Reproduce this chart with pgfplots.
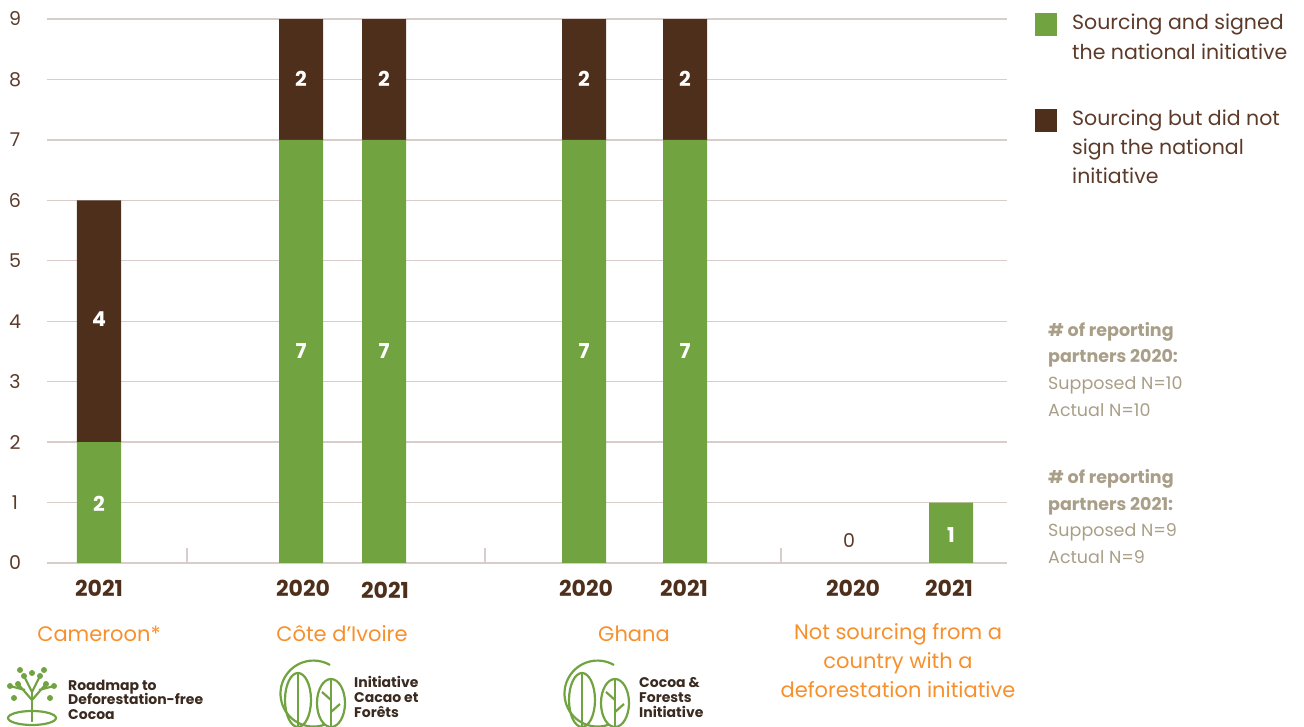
\documentclass[border=0pt]{standalone}
\usepackage{pgfplots}
\pgfplotsset{compat=1.18}
\usepackage{fontspec}
\setmainfont{Poppins}
\definecolor{cgreen}{HTML}{71A341}
\definecolor{cbrown}{HTML}{4D2F1B}
\definecolor{gridc}{HTML}{D8CDCA}
\definecolor{tickc}{HTML}{5B3A29}
\definecolor{corange}{HTML}{F7902C}
\definecolor{cnote}{HTML}{A99F88}
\definecolor{clogo}{HTML}{3A2A20}
\tikzset{barlbl/.style={text=white, font=\fontsize{20.5}{20.5}\selectfont\bfseries}}
\begin{document}
\begin{tikzpicture}[x=1pt,y=1pt]
\path[use as bounding box] (-47,-164) rectangle (1257,563);
\begin{axis}[anchor=south west, scale only axis,
  width=960pt, height=544pt, xmin=47, xmax=1007, ymin=0, ymax=9,
  ytick={0,...,9}, xtick=\empty, ymajorgrids,
  grid style={draw=gridc, line width=1.3pt},
  axis line style={draw=none}, major tick length=0pt,
  yticklabel style={anchor=center, xshift=-32pt, font=\fontsize{19}{19}\selectfont, text=tickc},
  /pgf/number format/assume math mode=true,
  ybar stacked, bar width=44pt, clip=false]
\addplot[fill=cgreen, draw=none] coordinates {(99,2) (301,7) (384,7) (584,7) (685,7) (849,0) (951,1)};
\addplot[fill=cbrown, draw=none] coordinates {(99,4) (301,2) (384,2) (584,2) (685,2) (849,0) (951,0)};
\draw[gridc, line width=1.3pt] (axis cs:187,0) -- (axis cs:187,0.25) (axis cs:485,0) -- (axis cs:485,0.25) (axis cs:781,0) -- (axis cs:781,0.25);
\node[text=tickc, font=\fontsize{19}{19}\selectfont] at (axis cs:849,0.37) {0};
\end{axis}
\begin{scope}[shift={(-47,563)}, yscale=-1]
% bar value labels
\node[barlbl] at (99,504) {2}; \node[barlbl] at (99,319) {4};
\node[barlbl] at (301,351) {7}; \node[barlbl] at (301,79) {2};
\node[barlbl] at (384,351) {7}; \node[barlbl] at (384,79) {2};
\node[barlbl] at (584,351) {7}; \node[barlbl] at (584,79) {2};
\node[barlbl] at (685,351) {7}; \node[barlbl] at (685,79) {2};
\node[barlbl] at (951,535) {1};
% year labels
\begin{scope}[every node/.style={anchor=base, text=cbrown, font=\fontsize{22}{22}\selectfont\bfseries}]
\node at (99,597) {2021};
\node at (303,597) {2020};
\node at (385,599) {2021};
\node at (586,597) {2020};
\node at (684,597) {2021};
\node at (853,597) {2020};
\node at (949,597) {2021};
\end{scope}
% country labels
\begin{scope}[every node/.style={anchor=base, text=corange, font=\fontsize{21}{21}\selectfont}]
\node at (99,642) {Cameroon*};
\node at (342,642) {Côte d’Ivoire};
\node at (634,642) {Ghana};
\node at (898,640) {Not sourcing from a};
\node at (898,669) {country with a};
\node at (898,698) {deforestation initiative};
\end{scope}
% legend
\fill[cgreen] (1035,13) rectangle (1057,36);
\fill[cbrown] (1035,109) rectangle (1057,132);
\begin{scope}[every node/.style={anchor=base west, inner xsep=0pt, text=tickc, font=\fontsize{20.5}{20.5}\selectfont}]
\node at (1072,30) {Sourcing and signed};
\node at (1072,60) {the national initiative};
\node at (1072,126) {Sourcing but did not};
\node at (1072,155) {sign the national};
\node at (1072,184) {initiative};
\end{scope}
% notes
\begin{scope}[every node/.style={anchor=base west, inner xsep=0pt, text=cnote, font=\fontsize{17.5}{17.5}\selectfont}]
\node[font=\fontsize{17.5}{17.5}\selectfont\bfseries] at (1048,337) {\# of reporting};
\node[font=\fontsize{17.5}{17.5}\selectfont\bfseries] at (1048,363) {partners 2020:};
\node at (1048,390) {Supposed N=10};
\node at (1048,417) {Actual N=10};
\node[font=\fontsize{17.5}{17.5}\selectfont\bfseries] at (1048,484) {\# of reporting};
\node[font=\fontsize{17.5}{17.5}\selectfont\bfseries] at (1048,511) {partners 2021:};
\node at (1048,537) {Supposed N=9};
\node at (1048,564) {Actual N=9};
\end{scope}
% logo texts
\begin{scope}[every node/.style={anchor=base west, inner xsep=0pt, text=clogo, font=\fontsize{14}{14}\selectfont\bfseries}]
\node at (68,691) {Roadmap to};
\node at (68,705) {Deforestation-free};
\node at (68,720) {Cocoa};
\node at (354,688) {Initiative};
\node at (354,703) {Cacao et};
\node at (354,718) {Forêts};
\node at (639,688) {Cocoa \&};
\node at (639,703) {Forests};
\node at (639,718) {Initiative};
\end{scope}
% logo icons
\begin{scope}[cgreen, line width=2.2pt]
\foreach \cx in {312,596}{
  \draw (\cx+18,665) arc[start angle=-60, end angle=-290, radius=33];
  \draw (\cx-14,700) ellipse[x radius=13, y radius=27];
  \draw (\cx-14,674) -- (\cx-14,726);
  \draw (\cx+19,703) ellipse[x radius=14, y radius=24];
  \draw (\cx+19,680) -- (\cx+19,727);
  \draw (\cx+19,700) -- (\cx+10,692) (\cx+19,712) -- (\cx+28,704);
}
\draw (32,722) -- (32,690);
\draw (32,700) -- (18,684) (32,700) -- (46,684) (32,692) -- (24,676) (32,692) -- (40,676) (25,690) -- (10,686) (39,690) -- (54,686);
\draw (32,718) ellipse[x radius=24, y radius=7];
\foreach \a/\b in {18/684,46/684,24/676,40/676,10/686,54/686,32/673,14/698,50/698,20/670,44/670}
  \fill (\a,\b) circle[radius=3];
\end{scope}
\end{scope}
\end{tikzpicture}
\end{document}
